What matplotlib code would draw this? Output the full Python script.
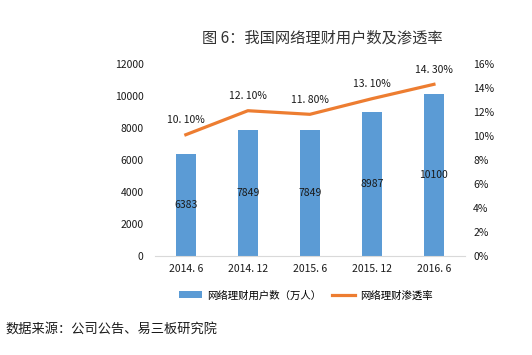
import matplotlib
matplotlib.use("Agg")
import matplotlib.pyplot as plt
from matplotlib.ticker import FuncFormatter

plt.rcParams['font.family'] = ['Noto Sans CJK SC', 'DejaVu Sans']

categories = ["2014. 6", "2014. 12", "2015. 6", "2015. 12", "2016. 6"]
users = [6383, 7849, 7849, 8987, 10100]
rate = [10.10, 12.10, 11.80, 13.10, 14.30]
rate_labels = ["10. 10%", "12. 10%", "11. 80%", "13. 10%", "14. 30%"]

BLUE = "#5B9BD5"
ORANGE = "#ED7D31"

fig = plt.figure(figsize=(5.32, 3.55), dpi=100)
ax = fig.add_axes([0.291, 0.279, 0.583, 0.541])
ax2 = ax.twinx()

x = list(range(len(categories)))
bars = ax.bar(x, users, width=0.32, color=BLUE, label="网络理财用户数（万人）", zorder=2)
line, = ax2.plot(x, rate, color=ORANGE, lw=2.3, label="网络理财渗透率", zorder=3)

ax.set_xlim(-0.5, len(categories) - 0.5)
ax.set_ylim(0, 12000)
ax.set_yticks(range(0, 12001, 2000))
ax2.set_ylim(0, 16)
ax2.set_yticks(range(0, 17, 2))
ax2.yaxis.set_major_formatter(FuncFormatter(lambda v, p: f"{int(v)}%"))
ax.set_xticks(x)
ax.set_xticklabels(categories)

for a in (ax, ax2):
    for s in a.spines.values():
        s.set_visible(False)
    a.tick_params(length=0, labelsize=7.5, colors="#1a1a1a")
ax.spines['bottom'].set_visible(True)
ax.spines['bottom'].set_color("#D9D9D9")
ax.tick_params(axis='y', pad=8)
ax2.tick_params(axis='y', pad=6)
ax.tick_params(axis='x', pad=6)

for xi, v in zip(x, users):
    ax.text(xi, v / 2, str(v), ha='center', va='center', fontsize=7.5, color="#1a1a1a", zorder=4)
for xi, r, lab in zip(x, rate, rate_labels):
    ax2.annotate(lab, (xi, r), xytext=(0, 7), textcoords='offset points',
                 ha='center', va='bottom', fontsize=7.5, color="#1a1a1a")

fig.text(0.605, 0.893, "图 6：我国网络理财用户数及渗透率", ha='center', va='center', fontsize=11, color="#333333")

fig.legend(handles=[bars, line], loc='center', bbox_to_anchor=(0.575, 0.168), ncol=2,
           frameon=False, fontsize=7.5, handlelength=2.2, columnspacing=1.0,
           handletextpad=0.5)

fig.text(0.01, 0.07, "数据来源：公司公告、易三板研究院", ha='left', va='center', fontsize=9.5, color="#1a1a1a")

fig.savefig("out.png", dpi=100, facecolor="white")
